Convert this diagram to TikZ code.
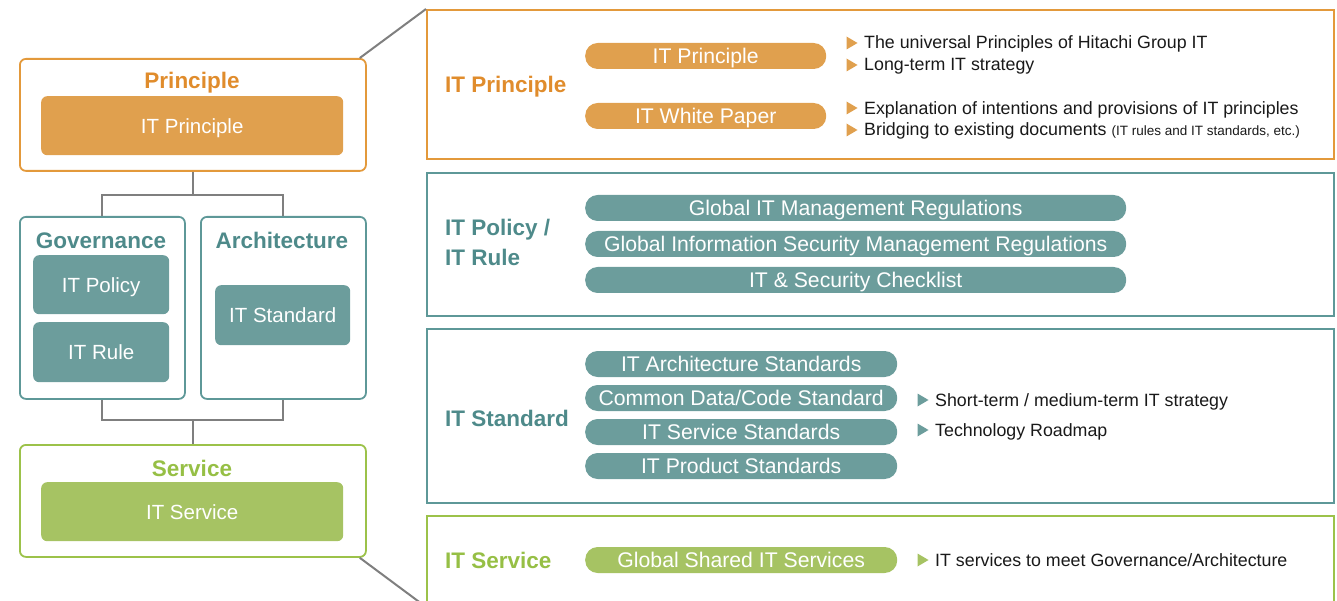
\documentclass[tikz,border=0pt]{standalone}
\usepackage{fontspec}
\setmainfont{Liberation Sans}
\definecolor{orgfill}{HTML}{E0A04E}
\definecolor{orgline}{HTML}{E3993B}
\definecolor{orgtext}{HTML}{E08C2C}
\definecolor{tealfill}{HTML}{6C9D9C}
\definecolor{tealline}{HTML}{5E9898}
\definecolor{tealtext}{HTML}{4E8A8A}
\definecolor{grnfill}{HTML}{A6C363}
\definecolor{grnline}{HTML}{9CC24A}
\definecolor{grntext}{HTML}{96BF45}
\definecolor{connline}{HTML}{7F7F7F}
\newcommand\btri[3]{\fill[#1] (#2,#3) ++(-5.5,-6.5) -- ++(0,13) -- ++(11,-6.5) -- cycle;}
\begin{document}
\begin{tikzpicture}[x=1pt,y=-1pt,
 lbox/.style={draw, line width=1.8pt, rounded corners=6pt, anchor=north west, inner sep=0pt},
 inbox/.style={rounded corners=6pt, anchor=north west, inner sep=0pt},
 inlab/.style={inner sep=0pt, text=white, font=\fontsize{20.5}{24}\selectfont, text height=14.7pt, text depth=0pt},
 ttl/.style={inner sep=0pt, font=\bfseries\fontsize{22.5}{27}\selectfont, text height=16.1pt, text depth=0pt},
 rbox/.style={draw, line width=2pt, anchor=north west, inner sep=0pt, minimum width=907pt},
 pill/.style={rounded corners=12.5pt, minimum height=26pt, inner sep=0pt, anchor=west, text=white, font=\fontsize{21.2}{24}\selectfont, text height=15.2pt, text depth=0pt},
 btxt/.style={anchor=west, inner sep=0pt, font=\fontsize{17.8}{21}\selectfont, text=black!90, text height=12.8pt, text depth=0pt},
 conn/.style={draw=connline, line width=2pt}]
\useasboundingbox (0,0) rectangle (1337,601);

% ---------- left column ----------
\node[lbox, draw=orgline, minimum width=346pt, minimum height=112pt] (pbox) at (19,58) {};
\node[ttl, text=orgtext] (ptitle) at (192,80) {Principle};
\node[inbox, fill=orgfill, minimum width=302pt, minimum height=59pt] (pin) at (41,96) {};
\node[inlab] (pinl) at (pin.center) {IT Principle};

\node[lbox, draw=tealline, minimum width=165pt, minimum height=182pt] (gov) at (19,216) {};
\node[ttl, text=tealtext] (govt) at (101,240) {Governance};
\node[inbox, fill=tealfill, minimum width=136pt, minimum height=59pt] (pol) at (33,255) {};
\node[inlab] (poll) at (pol.center) {IT Policy};
\node[inbox, fill=tealfill, minimum width=136pt, minimum height=60pt] (rul) at (33,322) {};
\node[inlab] (rull) at (rul.center) {IT Rule};

\node[lbox, draw=tealline, minimum width=165pt, minimum height=182pt] (arch) at (200,216) {};
\node[ttl, text=tealtext] (archt) at (282,240) {Architecture};
\node[inbox, fill=tealfill, minimum width=135pt, minimum height=60pt] (std) at (215,285) {};
\node[inlab] (stdl) at (std.center) {IT Standard};

\node[lbox, draw=grnline, minimum width=346pt, minimum height=112pt] (sbox) at (19,444) {};
\node[ttl, text=grntext] (stitle) at (192,468) {Service};
\node[inbox, fill=grnfill, minimum width=302pt, minimum height=59pt] (svc) at (41,482) {};
\node[inlab] (svcl) at (svc.center) {IT Service};

% connectors
\path (pbox.south) ++(0,23) coordinate (j1);
\draw[conn] (pbox.south) -- (j1);
\draw[conn] (gov.north) |- (j1) -| (arch.north);
\path (sbox.north) ++(0,-24) coordinate (j2);
\draw[conn] (gov.south) |- (j2) -| (arch.south);
\draw[conn] (j2) -- (sbox.north);

% ---------- right column ----------
\node[rbox, draw=orgline, minimum height=149pt] (r1) at (426,9) {};
\node[rbox, draw=tealline, minimum height=143pt] (r2) at (426,172) {};
\node[rbox, draw=tealline, minimum height=174pt] (r3) at (426,328) {};
\node[rbox, draw=grnline, minimum height=90pt] (r4) at (426,515) {};

\draw[conn] ([xshift=-7pt]pbox.north east) -- (r1.north west);
\draw[conn] ([xshift=-7pt]sbox.south east) -- (r4.south west);

% box 1
\node[ttl, anchor=west, text=orgtext] (r1t) at (445,84) {IT Principle};
\node[pill, fill=orgfill, minimum width=241pt] (p11) at (585,56) {IT Principle};
\node[pill, fill=orgfill, minimum width=241pt] (p12) at (585,116) {IT White Paper};
\btri{orgfill}{852}{43}
\btri{orgfill}{852}{65}
\btri{orgfill}{852}{108}
\btri{orgfill}{852}{130}
\node[btxt] (b11) at (864,42) {The universal Principles of Hitachi Group IT};
\node[btxt] (b12) at (864,64) {Long-term IT strategy};
\node[btxt] (b13) at (864,108) {Explanation of intentions and provisions of IT principles};
\node[btxt] (b14) at (864,129) {Bridging to existing documents {\fontsize{13.5}{16}\selectfont (IT rules and IT standards, etc.)}};

% box 2
\node[ttl, anchor=west, align=left, text=tealtext, font=\bfseries\fontsize{22.5}{30}\selectfont, text height=, text depth=] (r2t) at (445,242) {IT Policy /\\IT Rule};
\node[pill, fill=tealfill, minimum width=541pt] (p21) at (585,208) {Global IT Management Regulations};
\node[pill, fill=tealfill, minimum width=541pt] (p22) at (585,244) {Global Information Security Management Regulations};
\node[pill, fill=tealfill, minimum width=541pt] (p23) at (585,280) {IT \& Security Checklist};

% box 3
\node[ttl, anchor=west, text=tealtext] (r3t) at (445,418) {IT Standard};
\node[pill, fill=tealfill, minimum width=312pt] (p31) at (585,364) {IT Architecture Standards};
\node[pill, fill=tealfill, minimum width=312pt] (p32) at (585,398) {Common Data/Code Standard};
\node[pill, fill=tealfill, minimum width=312pt] (p33) at (585,432) {IT Service Standards};
\node[pill, fill=tealfill, minimum width=312pt] (p34) at (585,466) {IT Product Standards};
\btri{tealfill}{923}{400}
\btri{tealfill}{923}{430}
\node[btxt] (b31) at (935,400) {Short-term / medium-term IT strategy};
\node[btxt] (b32) at (935,430) {Technology Roadmap};

% box 4
\node[ttl, anchor=west, text=grntext] (r4t) at (445,560) {IT Service};
\node[pill, fill=grnfill, minimum width=312pt] (p41) at (585,560) {Global Shared IT Services};
\btri{grnfill}{923}{560}
\node[btxt] (b41) at (935,560) {IT services to meet Governance/Architecture};
\end{tikzpicture}
\end{document}
